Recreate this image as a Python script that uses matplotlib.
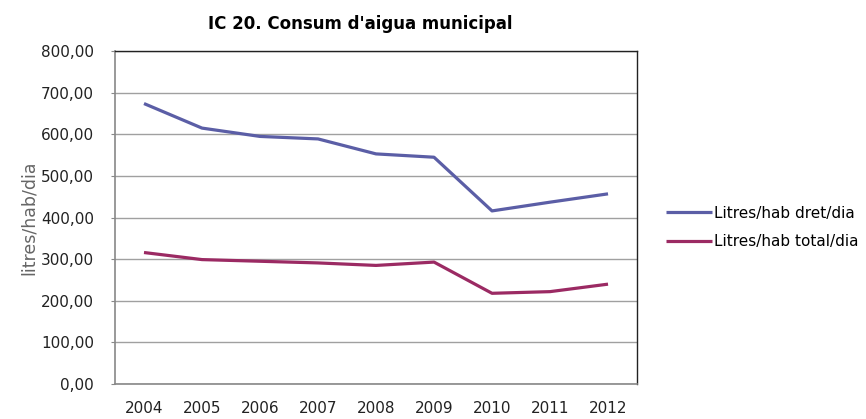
import matplotlib
matplotlib.use('Agg')
import matplotlib.pyplot as plt
from matplotlib.ticker import FuncFormatter

years = ['2004', '2005', '2006', '2007', '2008', '2009', '2010', '2011', '2012']
dret = [674, 615, 595, 589, 553, 545, 416, 437, 457]
total = [316, 299, 295, 291, 285, 293, 218, 222, 240]

plt.rcParams['font.family'] = ['DejaVu Sans']

fig = plt.figure(figsize=(8.66, 4.19), dpi=100)
ax = fig.add_axes([0.1328, 0.0835, 0.6028, 0.7945])

x = range(len(years))
ax.plot(x, dret, color='#5b5ea6', lw=2.3, label='Litres/hab dret/dia', solid_capstyle='butt')
ax.plot(x, total, color='#9b2a63', lw=2.3, label='Litres/hab total/dia', solid_capstyle='butt')

ax.set_xlim(-0.5, len(years) - 0.5)
ax.set_ylim(0, 800)
ax.set_yticks(range(0, 801, 100))
ax.yaxis.set_major_formatter(FuncFormatter(lambda v, p: f'{v:.2f}'.replace('.', ',')))
ax.set_xticks(list(x))
ax.set_xticklabels(years)
ax.tick_params(axis='x', length=0, pad=12, labelsize=11, colors='#222222')
ax.tick_params(axis='y', length=3, width=0.8, color='#888888', pad=12, labelsize=11, labelcolor='#222222')

ax.grid(axis='y', color='#a0a0a0', lw=1.0)
ax.set_axisbelow(True)
for s in ['left', 'bottom']:
    ax.spines[s].set_color('#888888')
    ax.spines[s].set_linewidth(1.2)
for s in ['top', 'right']:
    ax.spines[s].set_color('#222222')
    ax.spines[s].set_linewidth(1.0)

ax.set_ylabel('litres/hab/dia', fontsize=12.5, color='#666666', labelpad=2)
ax.set_title("IC 20. Consum d'aigua municipal", fontsize=12, fontweight='bold', pad=16, x=0.47)

ax.legend(loc='center left', bbox_to_anchor=(1.03, 0.47), frameon=False,
          fontsize=11, handlelength=3.0, handletextpad=0.1, labelspacing=0.9)

fig.savefig('out.png', dpi=100)
